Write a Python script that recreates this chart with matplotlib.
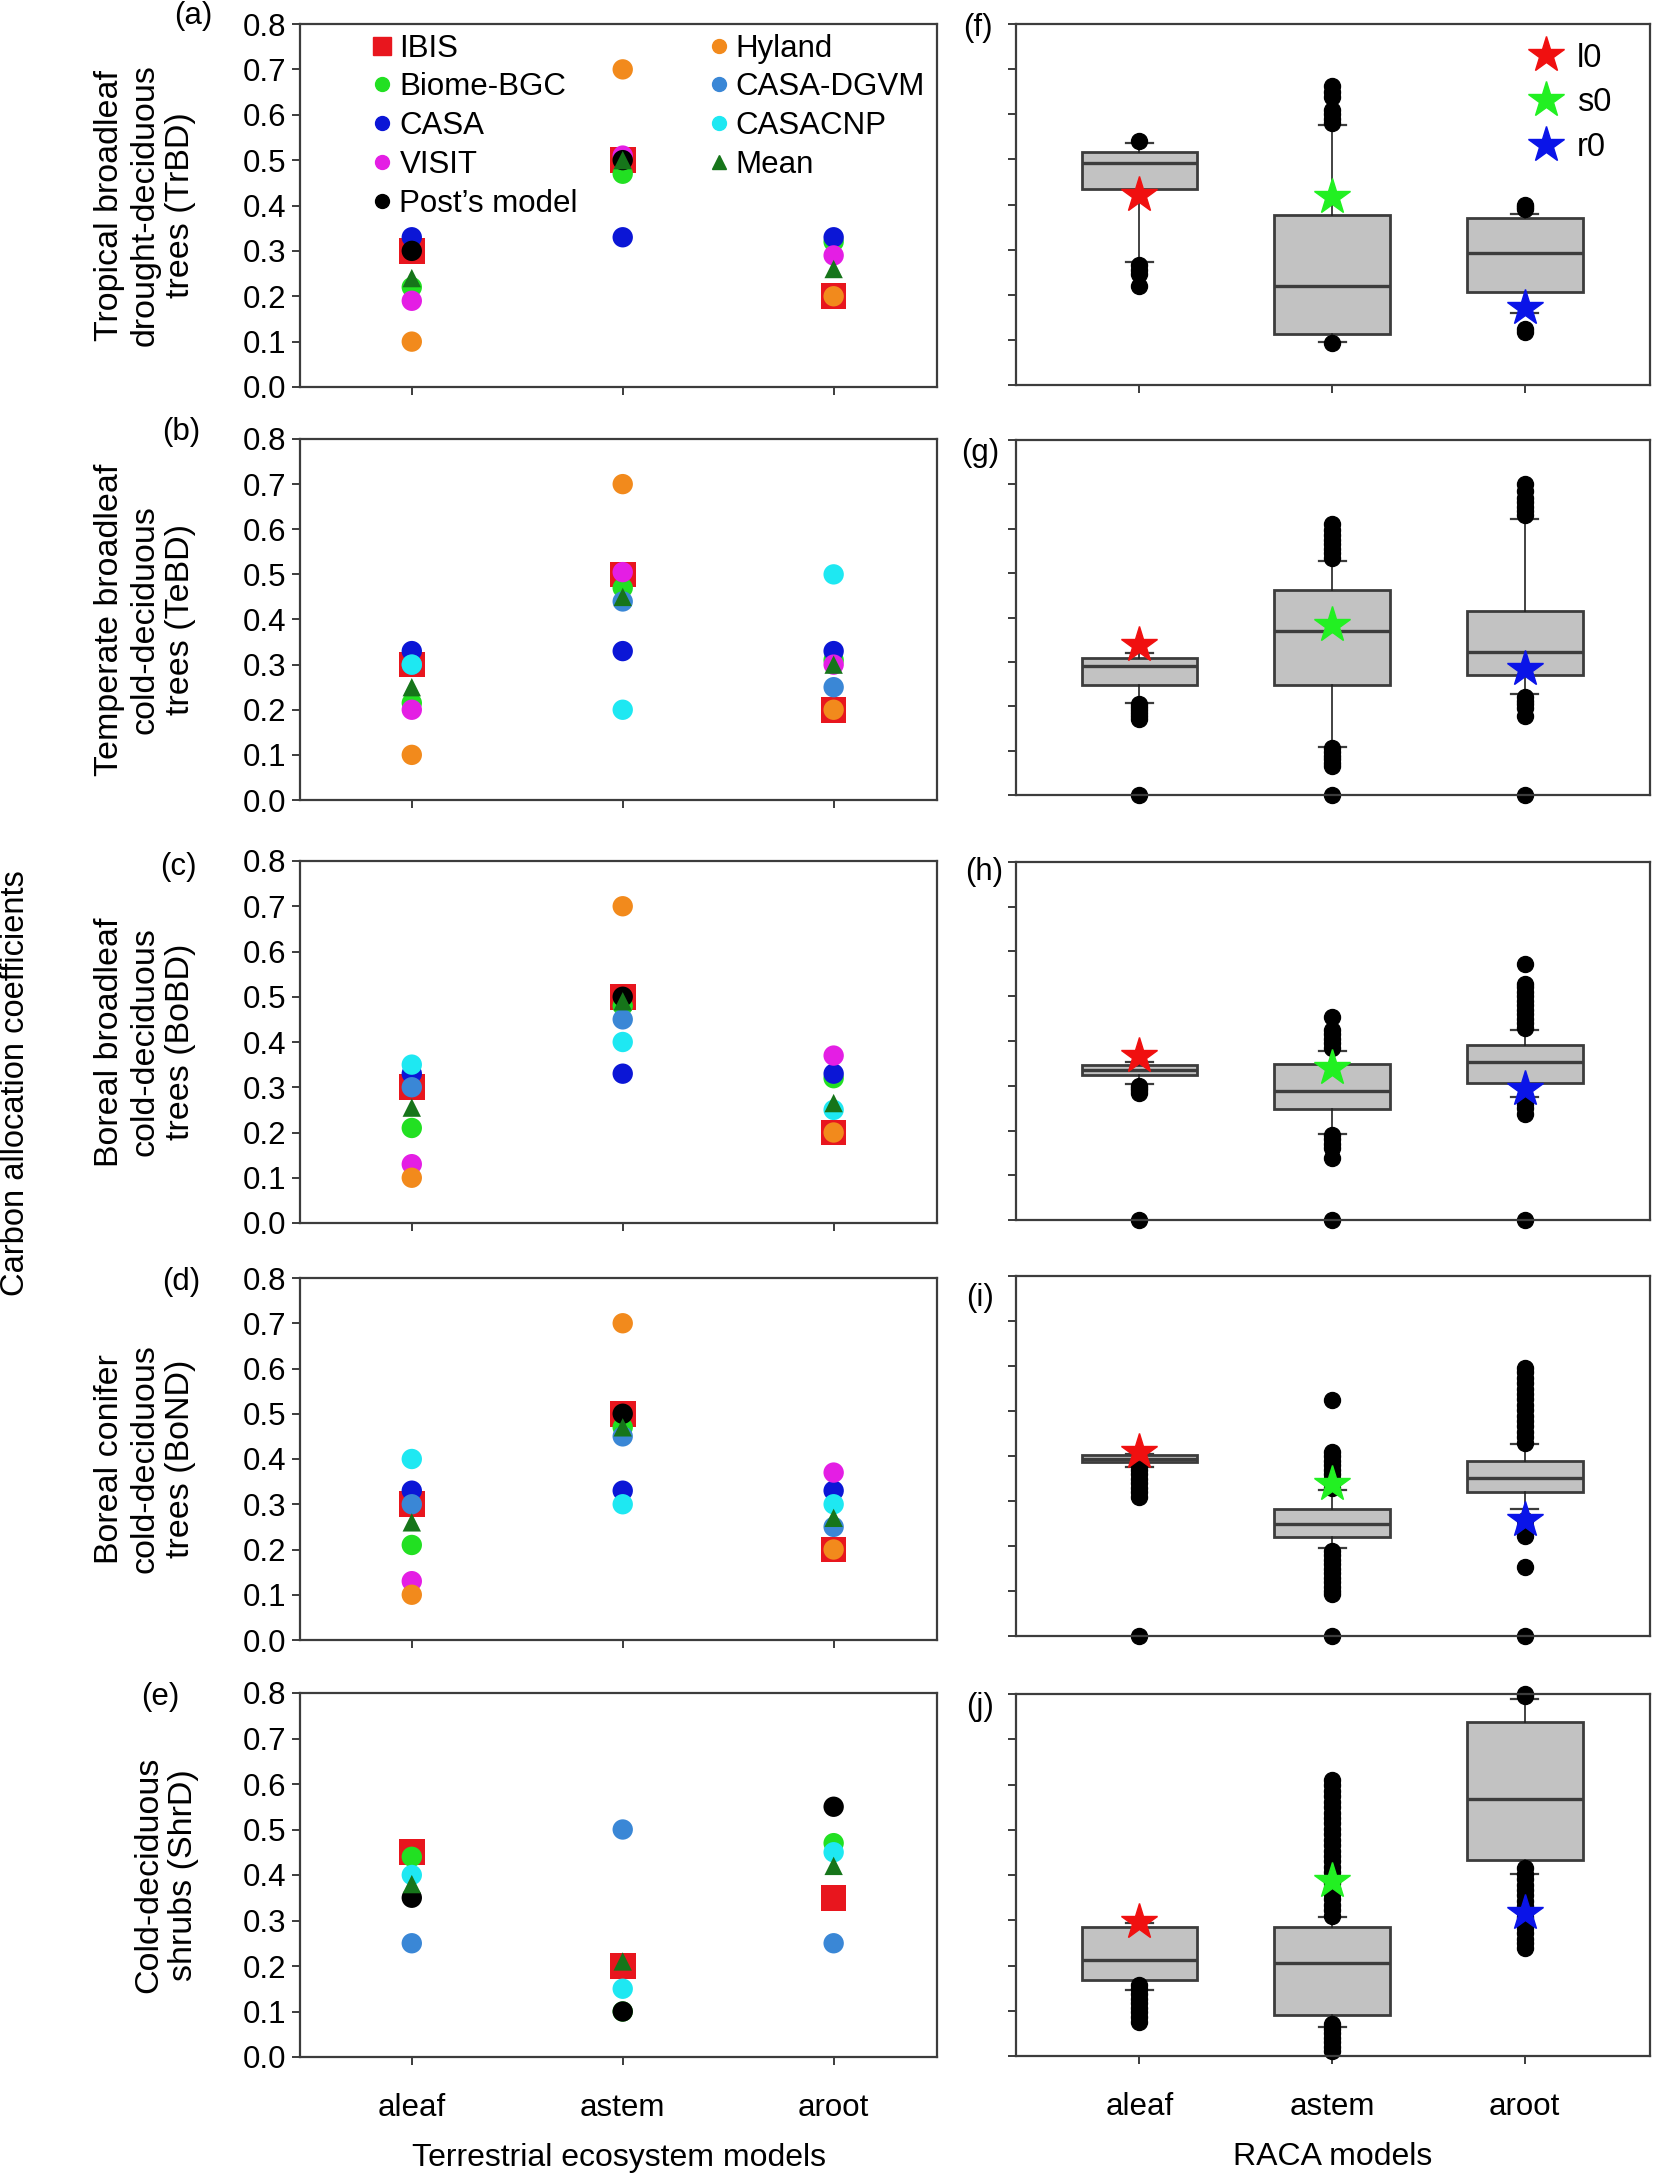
import numpy as np
import matplotlib
matplotlib.use("Agg")
import matplotlib.pyplot as plt
from matplotlib.lines import Line2D

plt.rcParams['font.family'] = ['Liberation Sans', 'DejaVu Sans']

nan = np.nan
categories = ['aleaf', 'astem', 'aroot']
pft_labels = ['Tropical broadleaf\ndrought-deciduous\ntrees (TrBD)',
              'Temperate broadleaf\ncold-deciduous\ntrees (TeBD)',
              'Boreal broadleaf\ncold-deciduous\ntrees (BoBD)',
              'Boreal conifer\ncold-deciduous\ntrees (BoND)',
              'Cold-deciduous\nshrubs (ShrD)']
left_tags = ['(a)', '(b)', '(c)', '(d)', '(e)']
right_tags = ['(f)', '(g)', '(h)', '(i)', '(j)']

# Terrestrial ecosystem model coefficients: rows = panels (a..e), cols = aleaf, astem, aroot
IBIS_vals = [[0.30, 0.50, 0.20], [0.30, 0.50, 0.20], [0.30, 0.50, 0.20], [0.30, 0.50, 0.20], [0.45, 0.20, 0.35]]
BiomeBGC_vals = [[0.22, 0.47, 0.32], [0.215, 0.47, 0.31], [0.21, 0.48, 0.32], [0.21, 0.47, nan], [0.44, 0.10, 0.47]]
CASA_vals = [[0.33, 0.33, 0.33], [0.33, 0.33, 0.33], [0.33, 0.33, 0.33], [0.33, 0.33, 0.33], [nan, nan, nan]]
VISIT_vals = [[0.19, 0.51, 0.29], [0.20, 0.505, 0.30], [0.13, nan, 0.37], [0.13, nan, 0.37], [nan, nan, nan]]
Post_vals = [[0.30, 0.50, nan], [nan, nan, nan], [nan, 0.50, nan], [nan, 0.50, nan], [0.35, 0.10, 0.55]]
Hyland_vals = [[0.10, 0.70, 0.20], [0.10, 0.70, 0.20], [0.10, 0.70, 0.20], [0.10, 0.70, 0.20], [nan, nan, nan]]
CASADGVM_vals = [[nan, nan, nan], [0.30, 0.44, 0.25], [0.30, 0.45, nan], [0.30, 0.45, 0.25], [0.25, 0.50, 0.25]]
CASACNP_vals = [[nan, nan, nan], [0.30, 0.20, 0.50], [0.35, 0.40, 0.25], [0.40, 0.30, 0.30], [0.40, 0.15, 0.45]]
Mean_vals = [[0.24, 0.50, 0.26], [0.25, 0.45, 0.30], [0.255, 0.49, 0.265], [0.26, 0.47, 0.27], [0.38, 0.21, 0.42]]

# RACA box statistics: rows = panels (f..j), cols = aleaf, astem, aroot
box_whislo = [[0.273, 0.095, 0.160], [0.208, 0.109, 0.227], [0.304, 0.193, 0.275], [0.376, 0.196, 0.283], [0.146, 0.065, 0.403]]
box_q1 = [[0.434, 0.114, 0.205], [0.247, 0.247, 0.271], [0.324, 0.249, 0.307], [0.386, 0.220, 0.319], [0.169, 0.091, 0.434]]
box_med = [[0.493, 0.220, 0.292], [0.291, 0.370, 0.323], [0.336, 0.289, 0.353], [0.394, 0.248, 0.351], [0.213, 0.205, 0.569]]
box_q3 = [[0.516, 0.376, 0.369], [0.308, 0.462, 0.415], [0.347, 0.349, 0.392], [0.402, 0.282, 0.388], [0.286, 0.284, 0.738]]
box_whishi = [[0.537, 0.576, 0.380], [0.321, 0.528, 0.623], [0.353, 0.377, 0.424], [0.404, 0.324, 0.427], [0.293, 0.307, 0.789]]
star_vals = [[0.420, 0.417, 0.170], [0.338, 0.383, 0.283], [0.366, 0.340, 0.292], [0.409, 0.337, 0.257], [0.297, 0.387, 0.317]]

fliers_f = [[0.540, 0.265, 0.255, 0.245, 0.220],
            [0.662, 0.650, 0.639, 0.610, 0.600, 0.590, 0.580, 0.092],
            [0.390, 0.395, 0.400, 0.125, 0.118]]
fliers_g = [[0.205, 0.198, 0.191, 0.184, 0.178, 0.172, 0.0],
            [0.535, 0.545, 0.555, 0.565, 0.575, 0.585, 0.597, 0.610,
             0.105, 0.097, 0.089, 0.081, 0.073, 0.065, 0.0],
            [0.630, 0.640, 0.650, 0.660, 0.670, 0.685, 0.700,
             0.220, 0.212, 0.204, 0.196, 0.178, 0.0]]
fliers_h = [[0.300, 0.295, 0.290, 0.283, 0.0],
            [0.385, 0.395, 0.405, 0.415, 0.425, 0.454,
             0.190, 0.180, 0.170, 0.160, 0.138, 0.0],
            [0.430, 0.440, 0.450, 0.460, 0.470, 0.480, 0.490, 0.500, 0.510, 0.520, 0.528, 0.571,
             0.270, 0.260, 0.250, 0.236, 0.0]]
fliers_i = [[0.380, 0.370, 0.360, 0.350, 0.340, 0.330, 0.320, 0.310, 0.0],
            [0.330, 0.340, 0.350, 0.360, 0.370, 0.380, 0.390, 0.400, 0.410, 0.524,
             0.190, 0.180, 0.170, 0.160, 0.150, 0.140, 0.130, 0.120, 0.110, 0.100, 0.094, 0.0],
            [0.430, 0.442, 0.454, 0.466, 0.478, 0.490, 0.502, 0.514, 0.526, 0.538, 0.550, 0.562, 0.574, 0.586, 0.595,
             0.257, 0.245, 0.235, 0.222, 0.153, 0.0]]
fliers_j = [[0.157, 0.147, 0.137, 0.127, 0.117, 0.107, 0.097, 0.087, 0.076],
            [0.310, 0.322, 0.334, 0.346, 0.358, 0.370, 0.382, 0.394, 0.406, 0.418, 0.430, 0.442, 0.454,
             0.466, 0.478, 0.490, 0.502, 0.514, 0.526, 0.538, 0.550, 0.562, 0.574, 0.586, 0.598, 0.610,
             0.070, 0.060, 0.050, 0.040, 0.030, 0.020, 0.010],
            [0.795, 0.800,
             0.415, 0.403, 0.391, 0.379, 0.367, 0.355, 0.343, 0.331, 0.319, 0.307, 0.295, 0.283,
             0.271, 0.259, 0.249, 0.239]]
fliers_all = [fliers_f, fliers_g, fliers_h, fliers_i, fliers_j]

model_names = ['IBIS', 'Biome-BGC', 'CASA', 'VISIT', 'Post\u2019s model',
               'Hyland', 'CASA-DGVM', 'CASACNP', 'Mean']
model_vals = [IBIS_vals, BiomeBGC_vals, CASA_vals, VISIT_vals, Post_vals,
              Hyland_vals, CASADGVM_vals, CASACNP_vals, Mean_vals]
model_colors = ['#e8161e', '#22e022', '#0b16d6', '#e41ee4', '#000000',
                '#f28a1c', '#3a87d6', '#1ee8f2', '#16751a']
model_markers = ['s', 'o', 'o', 'o', 'o', 'o', 'o', 'o', '^']
model_sizes = [340, 215, 215, 215, 215, 215, 215, 215, 175]
draw_order = [0, 5, 1, 2, 3, 6, 7, 4, 8]

W, H = 1658, 2175
fig = plt.figure(figsize=(W / 100, H / 100), dpi=100)

def add_ax(l, t, r, b):
    return fig.add_axes([l / W, 1 - b / H, (r - l) / W, (b - t) / H])

tops_l = [24, 439, 861, 1278, 1693]
bots_l = [387, 800, 1223, 1640, 2057]
tops_r = [24, 440, 862, 1276, 1694]
bots_r = [385, 795, 1220, 1636, 2056]
ylabel_x = [145, 145, 145, 145, 166]
ltag_pos = [(193, 16), (181, 432), (178, 867), (181, 1282), (160, 1697)]
rtag_pos = [(978, 28), (980, 453), (984, 872), (980, 1298), (980, 1707)]

edge = '#3c3c3c'
FS = 22.5
x = np.array([1, 2, 3])

def style(ax):
    for s in ax.spines.values():
        s.set_color(edge)
        s.set_linewidth(1.6)
    ax.tick_params(direction='out', length=6, width=1.4, color=edge,
                   labelsize=FS, pad=4)
    ax.set_ylim(0, 0.8)
    ax.set_yticks(np.arange(0, 0.81, 0.1))
    ax.set_xticks(x)

for p in range(5):
    # ---- left: terrestrial ecosystem models ----
    ax = add_ax(300, tops_l[p], 937, bots_l[p])
    style(ax)
    ax.set_xlim(0.47, 3.49)
    ax.set_yticklabels(['%.1f' % v for v in np.arange(0, 0.81, 0.1)])
    for m in draw_order:
        ax.scatter(x, model_vals[m][p], s=model_sizes[m], marker=model_markers[m],
                   color=model_colors[m], edgecolors='none', zorder=3 + m * 0.1,
                   clip_on=False)
    if p == 4:
        ax.set_xticklabels(categories)
        ax.tick_params(axis='x', pad=20)
        ax.set_xlabel('Terrestrial ecosystem models', fontsize=FS + 0.5, labelpad=14)
    else:
        ax.set_xticklabels([])
    fig.text(ylabel_x[p] / W, 1 - (tops_l[p] + bots_l[p]) / 2 / H, pft_labels[p],
             rotation=90, ha='center', va='center', fontsize=24.5,
             multialignment='center', linespacing=1.17)
    fig.text(ltag_pos[p][0] / W, 1 - ltag_pos[p][1] / H, left_tags[p],
             ha='center', va='center', fontsize=FS)
    if p == 0:
        handles = [Line2D([], [], linestyle='none', marker=model_markers[m],
                          color=model_colors[m], markersize=(13 if model_markers[m] == 's' else 10))
                   for m in range(9)]
        ax.legend(handles, model_names, loc='upper left', bbox_to_anchor=(0.085, 1.025),
                  ncol=2, frameon=False, fontsize=FS, handlelength=0.6,
                  handletextpad=0.25, columnspacing=4.2, labelspacing=0.28,
                  borderaxespad=0.2)

    # ---- right: RACA models ----
    axr = add_ax(1016, tops_r[p], 1650, bots_r[p])
    stats = []
    for k in range(3):
        stats.append(dict(med=box_med[p][k], q1=box_q1[p][k], q3=box_q3[p][k],
                          whislo=box_whislo[p][k], whishi=box_whishi[p][k],
                          fliers=fliers_all[p][k]))
    res = axr.bxp(stats, positions=x, widths=0.6, patch_artist=True, showfliers=True,
                  capwidths=0.14, manage_ticks=False,
                  boxprops=dict(facecolor='#c2c2c2', edgecolor=edge, linewidth=2.0),
                  medianprops=dict(color=edge, linewidth=2.4),
                  whiskerprops=dict(color='#222222', linewidth=1.2),
                  capprops=dict(color=edge, linewidth=1.6),
                  flierprops=dict(marker='o', markerfacecolor='black',
                                  markeredgecolor='black', markersize=11.5))
    for fl in res['fliers']:
        fl.set_clip_on(False)
    style(axr)
    axr.set_xlim(0.36, 3.65)
    axr.set_yticklabels([])
    star_cols = ['#f01010', '#22f022', '#0a14e8']
    for k in range(3):
        axr.plot(x[k], star_vals[p][k], marker='*', markersize=27, color=star_cols[k],
                 linestyle='none', zorder=6)
    if p == 4:
        axr.set_xticklabels(categories)
        axr.tick_params(axis='x', pad=20)
        axr.set_xlabel('RACA models', fontsize=FS + 0.5, labelpad=14)
    else:
        axr.set_xticklabels([])
    fig.text(rtag_pos[p][0] / W, 1 - rtag_pos[p][1] / H, right_tags[p],
             ha='center', va='center', fontsize=FS)
    if p == 0:
        sh = [Line2D([], [], linestyle='none', marker='*', markersize=27, color=c)
              for c in star_cols]
        axr.legend(sh, ['l0', 's0', 'r0'], loc='upper right', bbox_to_anchor=(0.985, 1.03),
                   frameon=False, fontsize=FS + 1, handlelength=0.8, handletextpad=0.55,
                   labelspacing=0.42)

fig.text(16 / W, 1 - 1083 / H, 'Carbon allocation coefficients', rotation=90,
         ha='center', va='center', fontsize=FS + 1)

fig.savefig('out.png', dpi=100)
